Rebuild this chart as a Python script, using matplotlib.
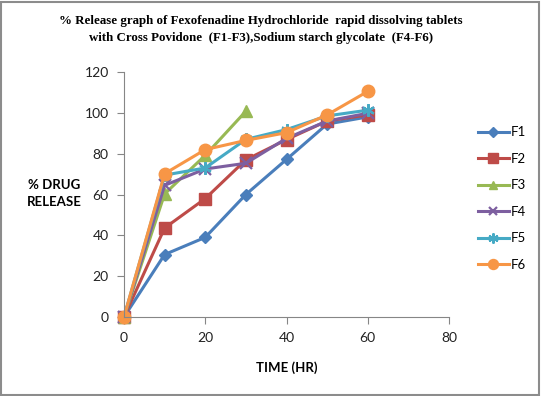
import matplotlib
matplotlib.use("Agg")
import matplotlib.pyplot as plt
from matplotlib.patches import Rectangle

time_f = [0, 10, 20, 30, 40, 50, 60]
time_f3 = [0, 10, 20, 30]
F1 = [0, 30.6, 39.0, 60.0, 77.2, 94.5, 98.0]
F2 = [0, 43.6, 58.0, 77.0, 86.9, 96.0, 99.0]
F3 = [0, 60.3, 79.2, 100.8]
F4 = [0, 64.5, 72.5, 75.3, 87.5, 96.0, 99.8]
F5 = [0, 69.5, 73.0, 87.0, 91.8, 98.5, 101.3]
F6 = [0, 70.2, 82.0, 86.5, 90.3, 99.0, 110.5]

names = ["F1", "F2", "F3", "F4", "F5", "F6"]
colors = ["#4a7ebb", "#be4b48", "#98b954", "#7d5fa0", "#46aac5", "#f79646"]
markers = ["D", "s", "^", "x", (6, 2, 0), "o"]
msizes = [6, 9, 8, 8, 9, 9]

plt.rcParams["font.family"] = ["Lato", "DejaVu Sans"]

fig = plt.figure(figsize=(5.41, 3.96), dpi=100)
fig.patches.append(Rectangle((0.002, 0.003), 0.995, 0.993, transform=fig.transFigure,
                             fill=False, edgecolor="#8c8c8c", linewidth=1.5))
ax = fig.add_axes([124/541, 1-317/396, (449-124)/541, (317-72)/396])

series = [(time_f, F1), (time_f, F2), (time_f3, F3), (time_f, F4), (time_f, F5), (time_f, F6)]
for (x, y), n, c, m, s in zip(series, names, colors, markers, msizes):
    mk = dict(marker=m, markersize=s, color=c, linewidth=2.2, label=n)
    if m == "x" or isinstance(m, tuple):
        mk["markeredgewidth"] = 1.6
    else:
        mk["markeredgecolor"] = c
    ln, = ax.plot(x, y, **mk)
    ln.set_clip_on(False)

ax.set_xlim(0, 80)
ax.set_ylim(0, 120)
ax.set_xticks([0, 20, 40, 60, 80])
ax.set_yticks([0, 20, 40, 60, 80, 100, 120])
for sp in ["top", "right"]:
    ax.spines[sp].set_visible(False)
for sp in ["left", "bottom"]:
    ax.spines[sp].set_color("#868686")
ax.tick_params(colors="#868686", labelcolor="#222222", labelsize=10, length=5,
               direction="out", pad=6)

fig.text(287/541, 1-368/396, "TIME (HR)", fontsize=9.5, fontweight="bold",
         ha="center", va="center")
fig.text(54/541, 1-194/396, "% DRUG\nRELEASE", fontsize=9.5, fontweight="bold",
         ha="center", va="center", linespacing=1.5)

fig.text(261/541, 1-21/396, "% Release graph of Fexofenadine Hydrochloride  rapid dissolving tablets",
         family="Liberation Serif", fontweight="bold", fontsize=9.3, ha="center", va="center")
fig.text(261/541, 1-38/396, "with Cross Povidone  (F1-F3),Sodium starch glycolate  (F4-F6)",
         family="Liberation Serif", fontweight="bold", fontsize=9.3, ha="center", va="center")

leg = fig.legend(loc="upper left", bbox_to_anchor=(473/541, 1-121/396), frameon=False,
                 fontsize=9.5, handlelength=2.3, handletextpad=0.15, labelspacing=1.1,
                 borderaxespad=0, markerscale=0.8)

fig.savefig("out.png", dpi=100)
